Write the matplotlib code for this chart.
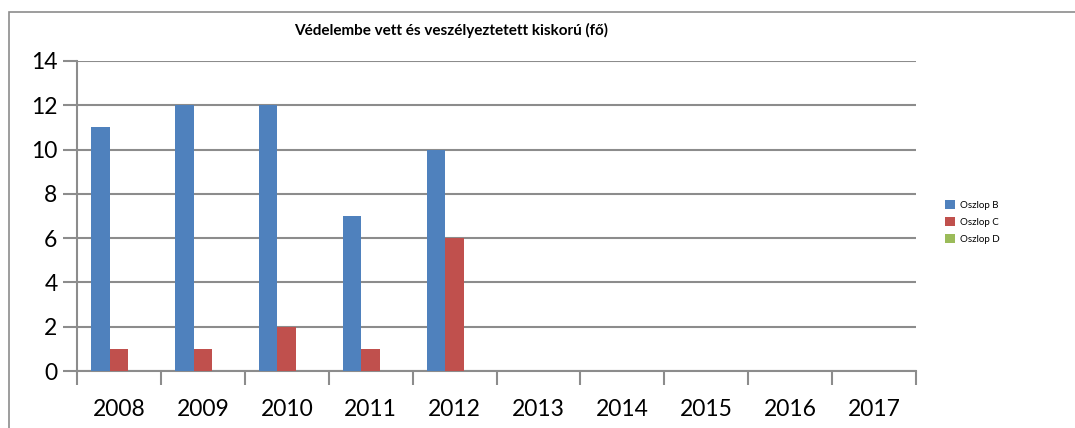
import matplotlib
matplotlib.use("Agg")
import matplotlib.pyplot as plt
import numpy as np
from matplotlib.patches import Rectangle

years = ["2008", "2009", "2010", "2011", "2012", "2013", "2014", "2015", "2016", "2017"]
oszlop_b = [11, 12, 12, 7, 10, 0, 0, 0, 0, 0]
oszlop_c = [1, 1, 2, 1, 6, 0, 0, 0, 0, 0]
oszlop_d = [0, 0, 0, 0, 0, 0, 0, 0, 0, 0]

plt.rcParams["font.family"] = ["Lato", "DejaVu Sans"]

W, H = 1075, 428
fig = plt.figure(figsize=(W / 100, H / 100), dpi=100)
ax = fig.add_axes([77 / W, 1 - 371 / H, (916 - 77) / W, (371 - 61) / H])

# outer chart frame (right and bottom edges fall outside the image)
fig.patches.append(Rectangle((9 / W, -0.1), 1.2, 1 - 12 / H + 0.1, transform=fig.transFigure,
                             fill=False, edgecolor="#8c8c8c", linewidth=1.2))

x = np.arange(len(years))
w = 1 / 4.5
ax.bar(x - w, oszlop_b, w, color="#4f81bd", label="Oszlop B", zorder=3)
ax.bar(x, oszlop_c, w, color="#c0504d", label="Oszlop C", zorder=3)
ax.bar(x + w, oszlop_d, w, color="#9bbb59", label="Oszlop D", zorder=3)

ax.set_xlim(-0.5, len(years) - 0.5)
ax.set_ylim(0, 14)
ax.set_yticks(range(0, 15, 2))
ax.set_xticks(x)
ax.set_xticklabels(years)
ax.set_xticks(np.arange(-0.5, len(years) + 0.5, 1), minor=True)
ax.tick_params(axis="x", which="major", length=0, labelsize=16.5, pad=20)
ax.tick_params(axis="x", which="minor", length=10, width=1.5, color="#8c8c8c")
ax.tick_params(axis="y", length=10, width=1.5, color="#8c8c8c", labelsize=16.5, pad=4)
ax.yaxis.grid(True, color="#8c8c8c", linewidth=1.5, zorder=0)

for side in ["top", "right"]:
    ax.spines[side].set_visible(False)
for side in ["left", "bottom"]:
    ax.spines[side].set_color("#8c8c8c")
    ax.spines[side].set_linewidth(1.5)

fig.text(451 / W, 1 - 30 / H, "Védelembe vett és veszélyeztetett kiskorú (fő)",
         ha="center", va="center", fontsize=11, fontweight="bold")

fig.legend(loc="upper left", bbox_to_anchor=(945 / W, 1 - 200 / H), frameon=False,
           fontsize=7, handlelength=1.0, handleheight=1.0, handletextpad=0.5,
           labelspacing=0.75, borderaxespad=0, borderpad=0)

fig.savefig("out.png", dpi=100)
